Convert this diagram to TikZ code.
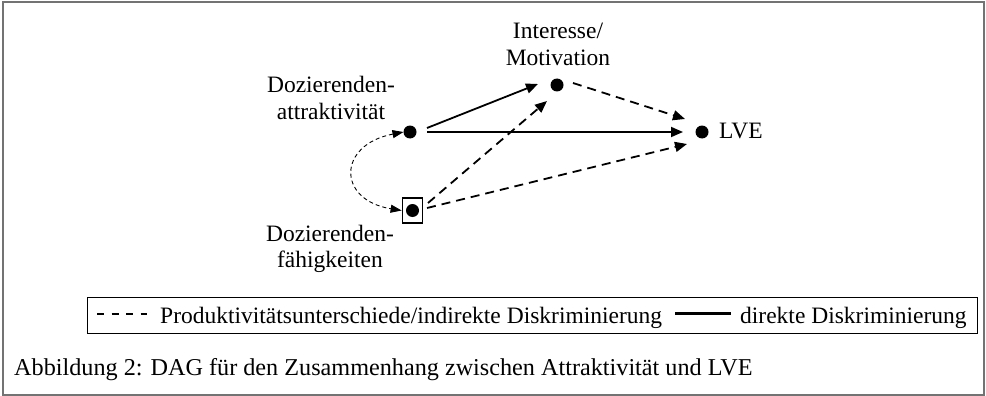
\documentclass[tikz,border=0pt]{standalone}
\usepackage{fontspec}
\setmainfont{Liberation Serif}
\usetikzlibrary{arrows.meta,calc}
\begin{document}
\begin{tikzpicture}[x=1pt,y=-1pt,
  txt/.style={inner sep=0pt, font=\fontsize{23.5}{27}\selectfont},
  captxt/.style={inner sep=0pt, font=\fontsize{24.2}{28}\selectfont},
  dot/.style={circle, fill=black, inner sep=0pt, minimum size=13pt, outer sep=0pt},
  tip/.style={-{Triangle[length=12pt,width=10pt]}},
  solidarrow/.style={tip, line width=1.8pt},
  dasharrow/.style={tip, line width=1.8pt, dash pattern=on 9pt off 6pt},
  curvearrow/.style={{Triangle[length=11pt,width=8pt]}-{Triangle[length=11pt,width=8pt]}, line width=0.9pt, dash pattern=on 4pt off 3pt},
  ]
\useasboundingbox (0,0) rectangle (986,396);
% outer frame
\draw[line width=2pt, color={rgb,255:red,115;green,115;blue,115}] (3,2) rectangle (984,395);

% variables
\node[dot] (attr) at (410,132) {};
\node[dot] (int) at (557,85) {};
\node[dot] (lve) at (702,132) {};
\node[draw, line width=1.8pt, minimum width=20pt, minimum height=25pt, inner sep=0pt] (faeh) at (412.5,210.5) {};
\node[dot] (faehdot) at (faeh.center) {};

% labels
\node[txt, anchor=base] (intA) at (558,38.5) {Interesse/};
\node[txt, anchor=base] (intB) at (558,65.3) {Motivation};
\node[txt, anchor=base] (attrA) at (331,92.7) {Dozierenden-};
\node[txt, anchor=base] (attrB) at (331,120) {attraktivität};
\node[txt, anchor=base] (faehA) at (330,241.7) {Dozierenden-};
\node[txt, anchor=base] (faehB) at (330,267.5) {fähigkeiten};
\node[txt, anchor=base west] (lvelab) at (719,138.5) {LVE};

% connectors
\draw[solidarrow] ($(attr)+(17,-4)$) -- ($(int)+(-19,-1)$);
\draw[solidarrow] ($(attr)+(17,0)$) -- ($(lve)+(-19,0)$);
\draw[dasharrow] ($(int)+(16,-2)$) -- ($(lve)+(-17,-13)$);
\draw[dasharrow] ($(faeh)+(15.5,-7.5)$) -- ($(int)+(-10,16)$);
\draw[dasharrow] ($(faeh)+(14.5,-2.5)$) -- ($(lve)+(-15,12)$);
\draw[curvearrow] (attr.west) .. controls (337,145) and (337,200) .. (faeh.west);

% legend
\node[draw, line width=1pt, minimum width=890pt, minimum height=36pt, inner sep=0pt, anchor=north west] (legend) at (87,297) {};
\coordinate (ldA) at (97,314);
\coordinate (ldB) at (147,314);
\draw[line width=1.3pt, dash pattern=on 7pt off 7.5pt] (ldA) -- (ldB);
\node[txt, anchor=base west] (legA) at (160,323) {Produktivitätsunterschiede/indirekte Diskriminierung};
\coordinate (lsA) at (675,313);
\coordinate (lsB) at (731,313);
\draw[line width=3pt] (lsA) -- (lsB);
\node[txt, anchor=base west] (legB) at (740,323) {direkte Diskriminierung};

% caption
\node[captxt, anchor=base west] (caption) at (14,375) {Abbildung 2: DAG für den Zusammenhang zwischen Attraktivität und LVE};
\end{tikzpicture}
\end{document}
